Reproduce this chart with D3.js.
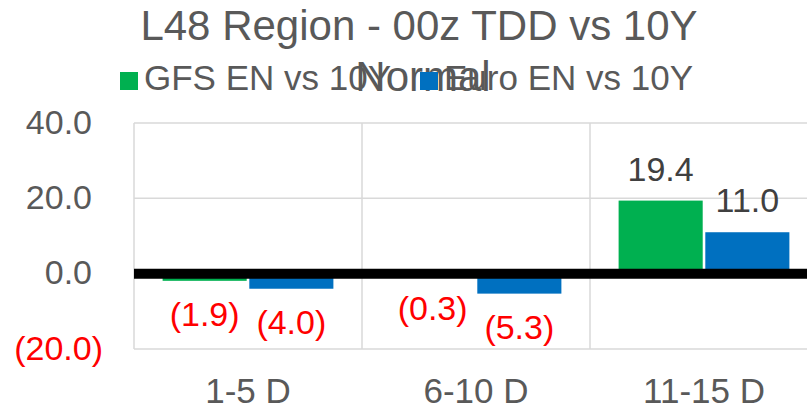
<!DOCTYPE html>
<html>
<head>
<meta charset="utf-8">
<script src="https://cdn.jsdelivr.net/npm/d3@7"></script>
<style>
  body { margin: 0; background: #fff; }
  svg { display: block; font-family: "Liberation Sans", Arial, sans-serif; }
</style>
</head>
<body>
<script>
const W = 807, H = 408;

// data
const categories = ["1-5 D", "6-10 D", "11-15 D"];
const seriesNames = ["GFS EN vs 10Y", "Euro EN vs 10Y"];
const gfs = [-1.9, -0.3, 19.4];
const euro = [-4.0, -5.3, 11.0];
const yTicks = [-20, 0, 20, 40];
const colors = ["#00B050", "#0070C0"];

const plotL = 134, plotR = 818, plotT = 123, plotB = 349;

const x = d3.scaleBand().domain(categories).range([plotL, plotR]);
const xSub = d3.scaleBand().domain([0, 1]).range([0, x.bandwidth()])
  .paddingInner(0.03).paddingOuter(0.33);
const y = d3.scaleLinear().domain([-20, 40]).range([plotB, plotT]);

const fmt = v => v < 0 ? "(" + Math.abs(v).toFixed(1) + ")" : v.toFixed(1);

const svg = d3.select("body").append("svg")
  .attr("width", W).attr("height", H);

// gridlines
svg.append("g").selectAll("line")
  .data(yTicks)
  .enter().append("line")
  .attr("x1", plotL).attr("x2", plotR)
  .attr("y1", d => y(d)).attr("y2", d => y(d))
  .attr("stroke", "#D9D9D9").attr("stroke-width", 1.5);

svg.append("g").selectAll("line")
  .data(categories)
  .enter().append("line")
  .attr("x1", d => x(d)).attr("x2", d => x(d))
  .attr("y1", plotT).attr("y2", plotB)
  .attr("stroke", "#D9D9D9").attr("stroke-width", 1.5);

// y axis labels (negatives in red with parentheses, positives padded for the paren)
const yAxis = d3.axisLeft(y).tickValues(yTicks).tickSize(0).tickPadding(42).tickFormat(fmt);
const ya = svg.append("g").attr("transform", "translate(" + plotL + ",0)").call(yAxis);
ya.select(".domain").remove();
ya.selectAll("text")
  .attr("font-size", 34)
  .attr("font-family", "Liberation Sans, Arial, sans-serif")
  .attr("fill", d => d < 0 ? "#FF0000" : "#595959")
  .attr("dx", d => d < 0 ? 11 : 0)
  .attr("dy", 10);

// bars
const series = [gfs, euro];
series.forEach((vals, si) => {
  svg.append("g").selectAll("rect")
    .data(vals)
    .enter().append("rect")
    .attr("x", (d, i) => x(categories[i]) + xSub(si))
    .attr("width", xSub.bandwidth())
    .attr("y", d => y(Math.max(0, d)))
    .attr("height", d => Math.abs(y(d) - y(0)))
    .attr("fill", colors[si]);

  svg.append("g").selectAll("text")
    .data(vals)
    .enter().append("text")
    .attr("x", (d, i) => x(categories[i]) + xSub(si) + xSub.bandwidth() / 2)
    .attr("y", d => d < 0 ? y(d) + 45 : y(d) - 20)
    .attr("text-anchor", "middle")
    .attr("font-size", 34)
    .attr("fill", d => d < 0 ? "#FF0000" : "#404040")
    .text(fmt);
});

// zero line
svg.append("line")
  .attr("x1", plotL).attr("x2", plotR)
  .attr("y1", y(0)).attr("y2", y(0))
  .attr("stroke", "#000").attr("stroke-width", 10);

// x axis labels
const xAxis = d3.axisBottom(x).tickSize(0);
const xa = svg.append("g").attr("transform", "translate(0," + plotB + ")").call(xAxis);
xa.select(".domain").remove();
xa.selectAll("text")
  .attr("font-size", 35)
  .attr("font-family", "Liberation Sans, Arial, sans-serif")
  .attr("fill", "#595959")
  .attr("y", 54).attr("dy", 0);

// title (second line overlaps the legend, as in the source)
svg.append("text")
  .attr("x", 419).attr("y", 40)
  .attr("text-anchor", "middle")
  .attr("font-size", 42).attr("fill", "#595959")
  .text("L48 Region - 00z TDD vs 10Y");
svg.append("text")
  .attr("x", 423).attr("y", 91)
  .attr("text-anchor", "middle")
  .attr("font-size", 42).attr("fill", "#595959")
  .text("Normal");

// legend
const legendX = [120, 420];
seriesNames.forEach((name, i) => {
  svg.append("rect")
    .attr("x", legendX[i]).attr("y", 72)
    .attr("width", 18).attr("height", 18)
    .attr("fill", colors[i]);
  svg.append("text")
    .attr("x", legendX[i] + 24).attr("y", 90)
    .attr("font-size", 35).attr("fill", "#595959")
    .text(name);
});
</script>
</body>
</html>
